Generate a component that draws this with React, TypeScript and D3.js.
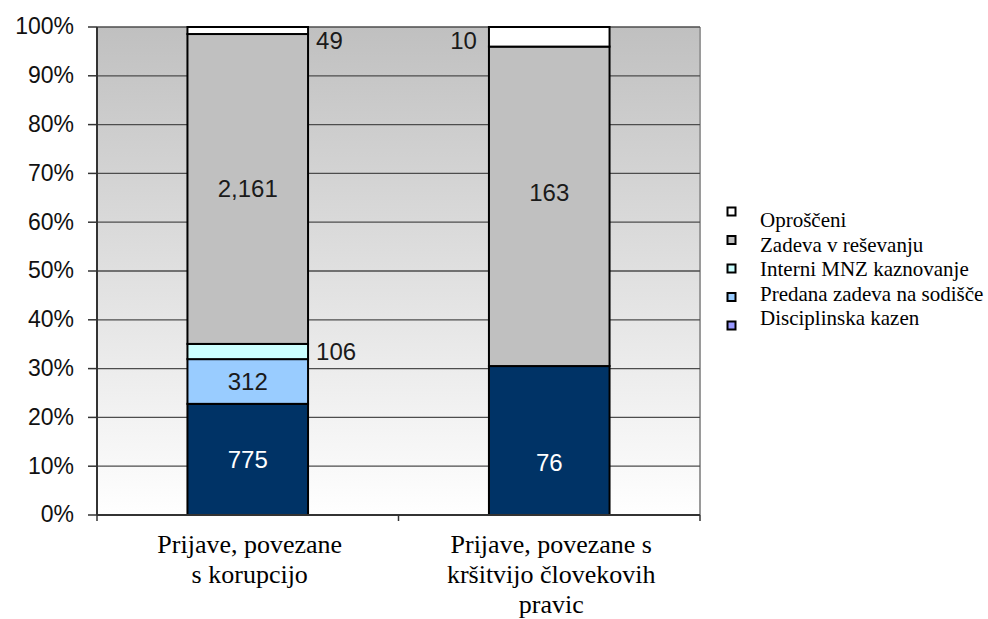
import React from 'react';
import * as d3 from 'd3';

// categories (label lines as they wrap under the axis)
const categories = ['korupcija', 'clovekove'];
const categoryLines = [
  ['Prijave, povezane', 's korupcijo'],
  ['Prijave, povezane s', 'kršitvijo človekovih', 'pravic'],
];

// series, bottom to top of each bar
const seriesNames = [
  'Disciplinska kazen',
  'Predana zadeva na sodišče',
  'Interni MNZ kaznovanje',
  'Zadeva v reševanju',
  'Oproščeni',
];
const korupcijaValues = [775, 312, 106, 2161, 49];
const clovekoveValues = [76, 0, 0, 163, 10];

const yTickValues = [0, 0.1, 0.2, 0.3, 0.4, 0.5, 0.6, 0.7, 0.8, 0.9, 1];

const barColors = ['#003366', '#99ccff', '#ccffff', '#c0c0c0', '#ffffff'];
// the legend swatch for the first series is drawn lilac in the original
const legendColors = ['#9999ff', '#99ccff', '#ccffff', '#c0c0c0', '#ffffff'];

// labels in the second bar were dragged off centre in the original (px)
const labelNudge: Record<string, number> = { '1-0': 22, '1-3': -14 };

const W = 988;
const H = 619;
const plot = { left: 97, right: 700, top: 27, bottom: 515 };

const App: React.FC = () => {
  const rows = categories.map((c, i) => {
    const row: Record<string, number | string> = { cat: c };
    seriesNames.forEach((s, j) => {
      row[s] = i === 0 ? korupcijaValues[j] : clovekoveValues[j];
    });
    return row;
  });

  const stacked = d3
    .stack<Record<string, number | string>>()
    .keys(seriesNames)
    .value((d, k) => d[k] as number)
    .offset(d3.stackOffsetExpand)(rows);

  const x = d3
    .scaleBand<string>()
    .domain(categories)
    .range([plot.left, plot.right])
    .paddingInner(0.6)
    .paddingOuter(0.3);

  const y = d3.scaleLinear().domain([0, 1]).range([plot.bottom, plot.top]);

  const pct = d3.format('.0%');
  const num = d3.format(',');

  // x tick positions sit on the category boundaries
  const xBoundaries = d3.range(categories.length + 1).map(i => plot.left + i * x.step());

  const legendMarkY = d3.scalePoint<number>().domain(d3.range(5)).range([212, 326]);
  const legendTextY = d3.scalePoint<number>().domain(d3.range(5)).range([227, 325]);
  const legendOrder = d3.range(seriesNames.length).reverse();

  const sansFont = '"Liberation Sans", Arial, sans-serif';
  const serifFont = '"Liberation Serif", "Times New Roman", serif';

  return (
    <div style={{ position: 'absolute', left: 0, top: 0 }}>
      <svg width={W} height={H} viewBox={`0 0 ${W} ${H}`} style={{ display: 'block', background: '#fff' }}>
        <defs>
          <linearGradient id="plotBg" x1="0" y1="0" x2="0" y2="1">
            <stop offset="0%" stopColor="#c0c0c0" />
            <stop offset="100%" stopColor="#ffffff" />
          </linearGradient>
        </defs>

        {/* plot area */}
        <rect
          x={plot.left}
          y={plot.top}
          width={plot.right - plot.left}
          height={plot.bottom - plot.top}
          fill="url(#plotBg)"
        />
        <line x1={plot.right} x2={plot.right} y1={plot.top} y2={plot.bottom} stroke="#9a9a9a" strokeWidth={2} />

        {/* grid lines + y ticks */}
        {yTickValues.map(t => (
          <g key={`y-${t}`}>
            {t > 0 && (
              <line x1={plot.left} x2={plot.right} y1={y(t)} y2={y(t)} stroke="#4d4d4d" strokeWidth={1.3} />
            )}
            <line x1={plot.left - 9} x2={plot.left} y1={y(t)} y2={y(t)} stroke="#333" strokeWidth={1.5} />
            <text
              x={plot.left - 23}
              y={y(t)}
              dy="0.32em"
              textAnchor="end"
              fontFamily={sansFont}
              fontSize={23}
              fill="#111"
            >
              {pct(t)}
            </text>
          </g>
        ))}

        {/* bars */}
        {stacked.map((layer, si) => (
          <g key={`s-${si}`}>
            {layer.map((seg, ci) => {
              const v = seg.data[seriesNames[si]] as number;
              if (!v) return null;
              const x0 = x(categories[ci]) as number;
              return (
                <rect
                  key={`r-${si}-${ci}`}
                  x={x0}
                  y={y(seg[1])}
                  width={x.bandwidth()}
                  height={y(seg[0]) - y(seg[1])}
                  fill={barColors[si]}
                  stroke="#000"
                  strokeWidth={2}
                />
              );
            })}
          </g>
        ))}

        {/* data labels */}
        {stacked.map((layer, si) =>
          layer.map((seg, ci) => {
            const v = seg.data[seriesNames[si]] as number;
            if (!v) return null;
            const x0 = x(categories[ci]) as number;
            const small = seg[1] - seg[0] < 0.05;
            const cy =
              Math.max(y((seg[0] + seg[1]) / 2), plot.top + 14) + (labelNudge[`${ci}-${si}`] || 0);
            let tx = x0 + x.bandwidth() / 2;
            let anchor: 'start' | 'middle' | 'end' = 'middle';
            if (small) {
              if (ci === 0) {
                tx = x0 + x.bandwidth() + 8;
                anchor = 'start';
              } else {
                tx = x0 - 12;
                anchor = 'end';
              }
            }
            return (
              <text
                key={`l-${si}-${ci}`}
                x={tx}
                y={cy}
                dy="0.35em"
                textAnchor={anchor}
                fontFamily={sansFont}
                fontSize={24}
                fill={si === 0 ? '#ffffff' : '#1a1a1a'}
              >
                {num(v)}
              </text>
            );
          })
        )}

        {/* axes */}
        <line x1={plot.left} x2={plot.left} y1={plot.top} y2={plot.bottom} stroke="#333" strokeWidth={2} />
        <line x1={plot.left} x2={plot.right} y1={plot.bottom} y2={plot.bottom} stroke="#333" strokeWidth={2} />
        {xBoundaries.map((bx, i) => (
          <line key={`xt-${i}`} x1={bx} x2={bx} y1={plot.bottom} y2={plot.bottom + 6} stroke="#333" strokeWidth={1.5} />
        ))}

        {/* category labels */}
        {categories.map((c, ci) => (
          <text
            key={`c-${c}`}
            x={(x(c) as number) + x.bandwidth() / 2 + 2}
            y={553}
            textAnchor="middle"
            fontFamily={serifFont}
            fontSize={26}
            fill="#000"
          >
            {categoryLines[ci].map((line, li) => (
              <tspan key={li} x={(x(c) as number) + x.bandwidth() / 2 + 2} dy={li === 0 ? 0 : 30}>
                {line}
              </tspan>
            ))}
          </text>
        ))}

        {/* legend */}
        {legendOrder.map((si, i) => (
          <g key={`lg-${si}`}>
            <rect
              x={727.5}
              y={legendMarkY(i)! - 4.5}
              width={8}
              height={8}
              fill={legendColors[si]}
              stroke="#000"
              strokeWidth={2}
            />
            <text x={760} y={legendTextY(i)} fontFamily={serifFont} fontSize={21} fill="#000">
              {seriesNames[si]}
            </text>
          </g>
        ))}
      </svg>
    </div>
  );
};

export default App;
